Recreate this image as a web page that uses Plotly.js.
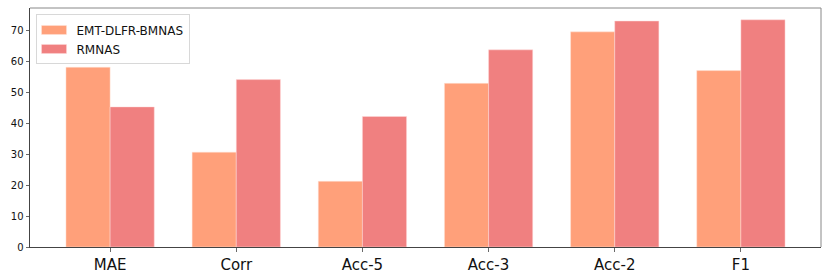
<!DOCTYPE html>
<html>
<head>
<meta charset="utf-8">
<script src="https://cdn.plot.ly/plotly-3.0.1.min.js"></script>
<style>html,body{margin:0;padding:0;background:#fff;}#chart{width:830px;height:277px;}</style>
</head>
<body>
<div id="chart"></div>
<script>
const categories = ["MAE", "Corr", "Acc-5", "Acc-3", "Acc-2", "F1"];
const seriesNames = ["EMT-DLFR-BMNAS", "RMNAS"];
const emtValues = [58.0, 30.6, 21.2, 52.8, 69.4, 56.9];
const rmnasValues = [45.2, 54.0, 42.1, 63.6, 72.9, 73.3];
const yTicks = [0, 10, 20, 30, 40, 50, 60, 70];

const colors = ["#FFA07A", "#F08080"];
const font = "DejaVu Sans, sans-serif";

const traces = [
  {type: "bar", name: seriesNames[0], x: categories, y: emtValues,
   marker: {color: colors[0], line: {width: 0.6, color: "rgba(255,230,220,0.8)"}}},
  {type: "bar", name: seriesNames[1], x: categories, y: rmnasValues,
   marker: {color: colors[1], line: {width: 0.6, color: "rgba(255,220,220,0.8)"}}}
];

const layout = {
  width: 830, height: 277,
  margin: {l: 29.5, r: 8.5, t: 7.5, b: 29.7, pad: 0},
  paper_bgcolor: "#fff", plot_bgcolor: "#fff",
  barmode: "group", bargap: 0.3, bargroupgap: 0,
  font: {family: font, color: "#111"},
  showlegend: true,
  legend: {x: 0.007, y: 0.973, xanchor: "left", yanchor: "top",
           bgcolor: "rgba(255,255,255,0.8)", bordercolor: "#d8d8d8", borderwidth: 1,
           font: {family: font, size: 12, color: "#111"},
           itemwidth: 30, tracegroupgap: 0},
  xaxis: {type: "category", range: [-0.635, 5.635], showgrid: false, zeroline: false,
          showline: true, linecolor: "#444", linewidth: 1,
          ticks: "outside", ticklen: 3.5, tickcolor: "#444", tickwidth: 0.8,
          tickfont: {family: font, size: 15, color: "#111"}},
  yaxis: {range: [0, 77.1], tickvals: yTicks, ticktext: yTicks.map(String),
          showgrid: false, zeroline: false,
          showline: true, linecolor: "#444", linewidth: 1,
          ticks: "outside", ticklen: 3.5, tickcolor: "#444", tickwidth: 0.8,
          tickfont: {family: font, size: 10, color: "#111"}},
  shapes: [
    {type: "line", xref: "paper", yref: "paper", x0: 0, x1: 1, y0: 1, y1: 1,
     line: {color: "#888", width: 1}},
    {type: "line", xref: "paper", yref: "paper", x0: 1, x1: 1, y0: 0, y1: 1,
     line: {color: "#888", width: 1}}
  ]
};

Plotly.newPlot("chart", traces, layout, {displayModeBar: false, staticPlot: true}).then(function (gd) {
  // widen legend swatches to matplotlib-like rectangles
  const legendBg = gd.querySelector(".legend .bg");
  const legendLeft = legendBg ? legendBg.getBoundingClientRect().left : 35;
  gd.querySelectorAll(".legend .traces").forEach(function (tr) {
    const p = tr.querySelector(".legendpoints path");
    if (!p) return;
    p.setAttribute("d", "M-12.5,-4.5h25v9h-25z");
    const r = p.getBoundingClientRect();
    const dx = (legendLeft + 5.5) - r.left;
    const prev = p.getAttribute("transform") || "";
    p.setAttribute("transform", prev + " translate(" + dx + ",0)");
  });
});
</script>
</body>
</html>
